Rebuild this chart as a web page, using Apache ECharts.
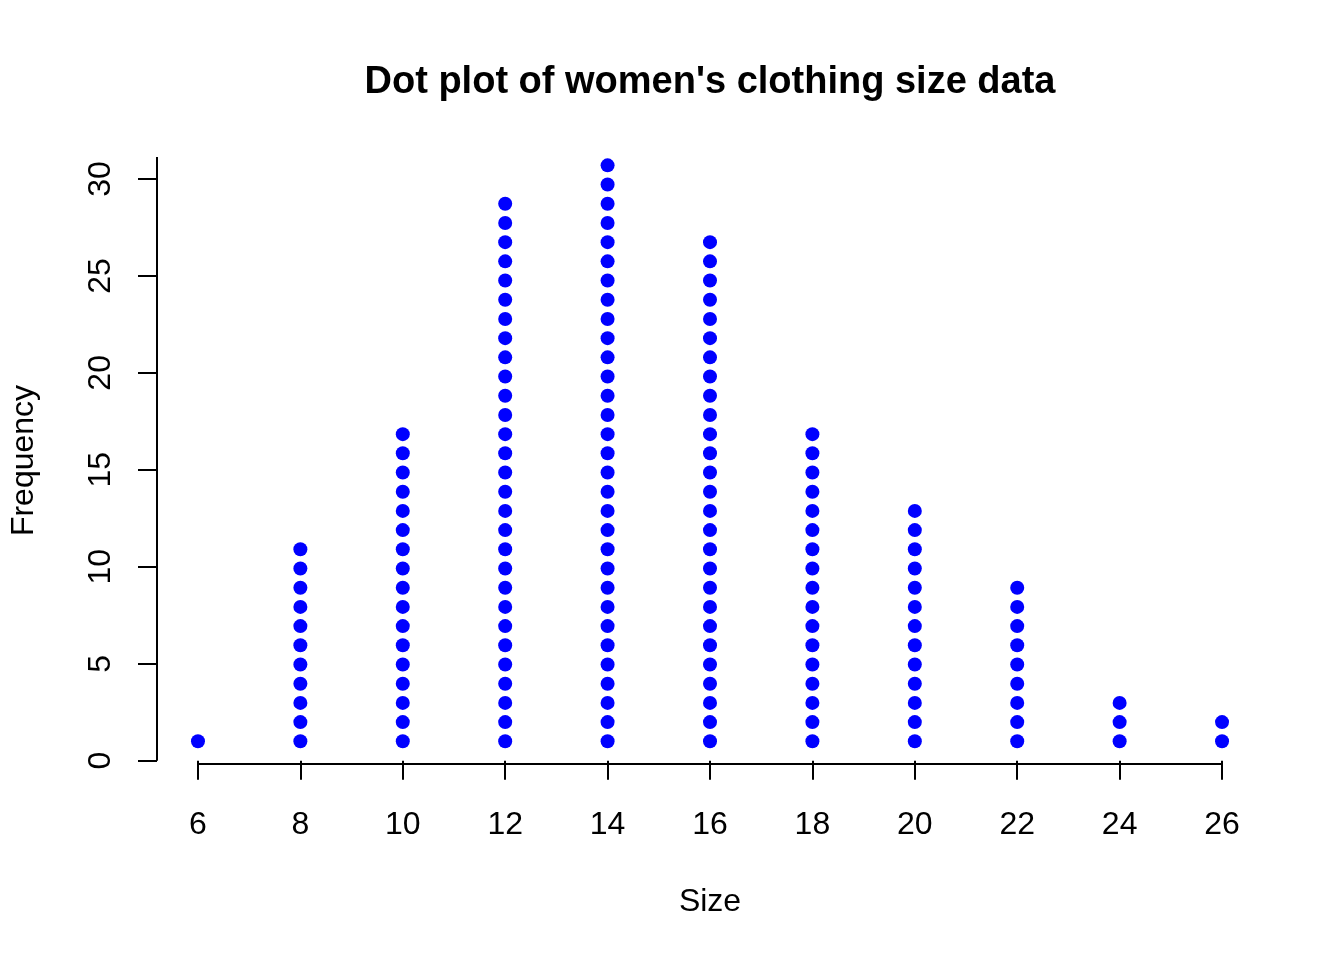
<!DOCTYPE html>
<html>
<head>
<meta charset="utf-8">
<script src="https://cdn.jsdelivr.net/npm/echarts@6/dist/echarts.min.js"></script>
<style>
html,body{margin:0;padding:0;background:#fff;}
#chart{width:1344px;height:960px;}
</style>
</head>
<body>
<div id="chart"></div>
<script>
// Data
var sizes = [6, 8, 10, 12, 14, 16, 18, 20, 22, 24, 26];
var counts = [1, 11, 17, 29, 31, 27, 17, 13, 9, 3, 2];
var xTicks = [6, 8, 10, 12, 14, 16, 18, 20, 22, 24, 26];
var yTicks = [0, 5, 10, 15, 20, 25, 30];

// stripchart-style stacking: one dot per observation, stacked upward
// (the stack step of the original is slightly under one axis unit)
var STACK_STEP = 0.99;
var dots = [];
for (var i = 0; i < sizes.length; i++) {
  for (var k = 1; k <= counts[i]; k++) dots.push([sizes[i], 1 + (k - 1) * STACK_STEP]);
}

var X_MIN = 5.2, X_MAX = 26.8, Y_MIN = -0.17, Y_MAX = 31.13;
var FONT = 'Liberation Sans, Arial, sans-serif';

var chart = echarts.init(document.getElementById('chart'));
chart.setOption({
  backgroundColor: '#ffffff',
  animation: false,
  title: {
    text: "Dot plot of women's clothing size data",
    left: 710,
    top: 64,
    textAlign: 'center',
    padding: 0,
    textStyle: {fontFamily: FONT, fontWeight: 'bold', fontSize: 38, color: '#000'}
  },
  grid: {left: 157, right: 81, top: 157, bottom: 196, containLabel: false},
  xAxis: {
    type: 'value', min: X_MIN, max: X_MAX,
    name: 'Size', nameLocation: 'middle', nameGap: 122,
    nameTextStyle: {fontFamily: FONT, fontSize: 32, color: '#000'},
    axisLine: {show: false},
    splitLine: {show: false},
    axisTick: {show: true, inside: false, length: 19, customValues: xTicks,
      lineStyle: {color: '#000', width: 2}},
    axisLabel: {show: true, customValues: xTicks, margin: 45,
      fontFamily: FONT, fontSize: 32, color: '#000'}
  },
  yAxis: {
    type: 'value', min: Y_MIN, max: Y_MAX,
    name: 'Frequency', nameLocation: 'middle', nameGap: 117,
    nameTextStyle: {fontFamily: FONT, fontSize: 32, color: '#000'},
    axisLine: {show: false},
    splitLine: {show: false},
    axisTick: {show: true, inside: false, length: 19, customValues: yTicks,
      lineStyle: {color: '#000', width: 2}},
    axisLabel: {show: true, customValues: yTicks, margin: 40, rotate: 90,
      fontFamily: FONT, fontSize: 32, color: '#000'}
  },
  series: [{
    type: 'scatter',
    data: dots,
    symbol: 'circle',
    symbolSize: 14,
    itemStyle: {color: '#0000ff', opacity: 1},
    clip: false,
    markLine: {
      silent: true,
      symbol: ['none', 'none'],
      label: {show: false},
      lineStyle: {color: '#000', width: 2, type: 'solid', opacity: 1},
      data: [
        [{coord: [X_MIN, 0]}, {coord: [X_MIN, Y_MAX]}],
        [{coord: [xTicks[0], Y_MIN]}, {coord: [xTicks[xTicks.length - 1], Y_MIN]}]
      ]
    }
  }]
});
</script>
</body>
</html>
